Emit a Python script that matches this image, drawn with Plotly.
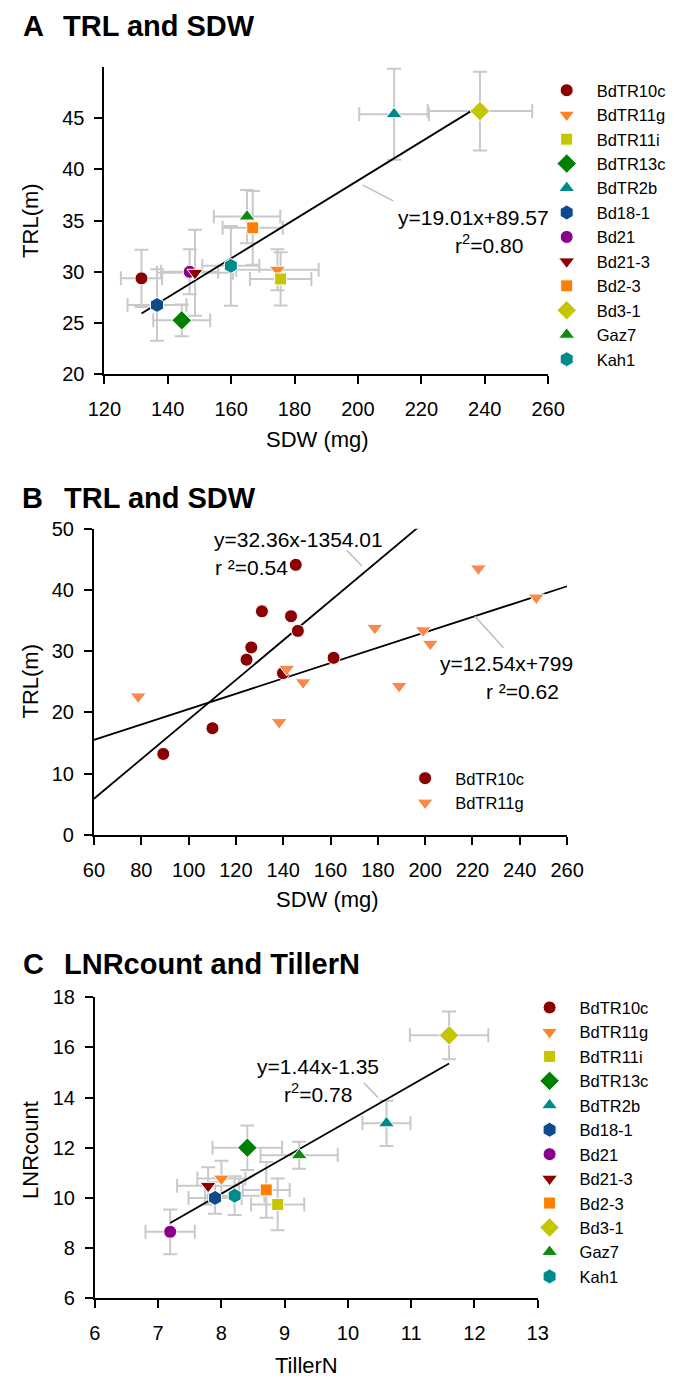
import plotly.graph_objects as go

W, H = 681, 1390
FONT = "Liberation Sans, Arial, sans-serif"


def px(x):
    return x / W


def py(y):
    return 1 - y / H


# ---------------- data ----------------
genotypes = ["BdTR10c", "BdTR11g", "BdTR11i", "BdTR13c", "BdTR2b", "Bd18-1",
             "Bd21", "Bd21-3", "Bd2-3", "Bd3-1", "Gaz7", "Kah1"]
geno_colors = ["#8B0000", "#FF8427", "#C6C600", "#008000", "#008B8B", "#0E4A8C",
               "#8B008B", "#8B0000", "#FF8000", "#C6C600", "#118A11", "#008B8B"]
geno_symbols = ["circle", "triangle-down", "square", "diamond", "triangle-up", "hexagon",
                "circle", "triangle-down", "square", "diamond", "triangle-up", "hexagon"]
geno_sizes = [13, 14, 12, 15, 14, 15, 13, 14, 12, 15, 14, 15]

# Panel A: TRL vs SDW (genotype means)
a_sdw = [131.7, 174.6, 175.6, 144.4, 211.4, 136.6, 146.9, 148.6, 166.8, 238.5, 165.0, 159.9]
a_sdw_err = [6.5, 13.0, 9.7, 9.0, 11.0, 9.3, 9.0, 12.0, 9.5, 16.5, 10.5, 9.0]
a_trl = [29.36, 30.2, 29.3, 25.26, 45.4, 26.76, 30.0, 29.9, 34.3, 45.7, 35.4, 30.58]
a_trl_err = [2.8, 2.0, 2.6, 1.55, 4.45, 3.5, 2.2, 4.2, 3.6, 3.85, 2.6, 3.9]
a_fit = [0.1901, 0.8957]          # slope, intercept (drawn scale)
a_eq_text = "y=19.01x+89.57"
a_r2_text = "r<sup>2</sup>=0.80"

# Panel B: TRL vs SDW (individual plants)
b_names = ["BdTR10c", "BdTR11g"]
b_colors = ["#8B0000", "#F98A4C"]
b_symbols = ["circle", "triangle-down"]
b_sizes = [13, 14]
b_10c_sdw = [145.3, 131.0, 143.3, 146.2, 126.5, 124.5, 161.3, 139.9, 110.1, 89.3]
b_10c_trl = [44.1, 36.5, 35.7, 33.3, 30.6, 28.6, 28.9, 26.4, 17.4, 13.2]
b_11g_sdw = [78.7, 141.5, 148.4, 138.3, 222.5, 247.0, 178.7, 199.2, 202.2, 189.0]
b_11g_trl = [22.6, 27.1, 24.9, 18.4, 43.5, 38.75, 33.8, 33.4, 31.2, 24.3]
b_fits = [[0.3236, -13.5401], [0.1254, 7.99]]
b_eq_texts = ["y=32.36x-1354.01", "y=12.54x+799"]
b_r2_texts = ["r \u00b2=0.54", "r \u00b2=0.62"]

# Panel C: LNRcount vs TillerN (genotype means)
c_tiller = [7.90, 8.0, 8.89, 8.41, 10.61, 7.90, 7.19, 7.79, 8.71, 11.6, 9.23, 8.21]
c_tiller_err = [0.0, 0.38, 0.42, 0.55, 0.38, 0.42, 0.39, 0.49, 0.37, 0.62, 0.61, 0.47]
c_lnr = [10.0, 10.77, 9.74, 12.0, 12.97, 10.0, 8.65, 10.48, 10.32, 16.48, 11.70, 10.09]
c_lnr_err = [0.0, 0.71, 1.03, 0.89, 0.90, 0.63, 0.89, 0.74, 1.11, 0.95, 0.54, 0.77]
c_fit = [1.44, -1.35]
c_eq_text = "y=1.44x-1.35"
c_r2_text = "r<sup>2</sup>=0.78"

# ---------------- figure ----------------
fig = go.Figure()
ERR = "#C9C9C9"


def add_panel_means(xs, xe, ys, ye, fit, xa, ya, legend):
    # error bars beneath everything
    fig.add_trace(go.Scatter(
        x=xs, y=ys, mode="markers", xaxis=xa, yaxis=ya, showlegend=False,
        marker=dict(color="rgba(0,0,0,0)", size=1),
        error_x=dict(type="data", array=xe, color=ERR, thickness=2, width=7),
        error_y=dict(type="data", array=ye, color=ERR, thickness=2, width=7),
        hoverinfo="skip"))
    x0, x1 = min(xs), max(xs)
    fig.add_trace(go.Scatter(
        x=[x0, x1], y=[fit[0] * x0 + fit[1], fit[0] * x1 + fit[1]],
        mode="lines", line=dict(color="black", width=1.8), xaxis=xa, yaxis=ya,
        showlegend=False, hoverinfo="skip"))
    for i, g in enumerate(genotypes):
        fig.add_trace(go.Scatter(
            x=[xs[i]], y=[ys[i]], mode="markers", name=g, xaxis=xa, yaxis=ya,
            legend=legend,
            marker=dict(color=geno_colors[i], symbol=geno_symbols[i], size=geno_sizes[i],
                        line=dict(color="white", width=1))))


add_panel_means(a_sdw, a_sdw_err, a_trl, a_trl_err, a_fit, "x", "y", "legend")

# Panel B
b_xr = [60, 260]
for f in b_fits:
    fig.add_trace(go.Scatter(
        x=b_xr, y=[f[0] * v + f[1] for v in b_xr], mode="lines",
        line=dict(color="black", width=1.8), xaxis="x2", yaxis="y2",
        showlegend=False, hoverinfo="skip"))
for nm, col, sym, sz, xs, ys in zip(b_names, b_colors, b_symbols, b_sizes,
                                    [b_10c_sdw, b_11g_sdw], [b_10c_trl, b_11g_trl]):
    fig.add_trace(go.Scatter(
        x=xs, y=ys, mode="markers", name=nm, xaxis="x2", yaxis="y2", legend="legend2",
        marker=dict(color=col, symbol=sym, size=sz, line=dict(color="white", width=1))))

add_panel_means(c_tiller, c_tiller_err, c_lnr, c_lnr_err, c_fit, "x3", "y3", "legend3")

# ---------------- layout ----------------
axis_common = dict(showline=True, linecolor="black", linewidth=2, ticks="outside",
                   ticklen=8, tickwidth=2, tickcolor="black", showgrid=False,
                   zeroline=False, tickfont=dict(family=FONT, size=20, color="black"),
                   fixedrange=True)


def xdom(a, b):
    return [a / W, b / W]


def ydom(top, bot):
    return [1 - bot / H, 1 - top / H]


fig.update_layout(
    width=W, height=H, margin=dict(l=0, r=0, t=0, b=0),
    paper_bgcolor="white", plot_bgcolor="white",
    font=dict(family=FONT, color="black"),
    xaxis=dict(axis_common, domain=xdom(92, 559), range=[120, 260],
               tickvals=list(range(120, 261, 20)), anchor="y", ticklabelstandoff=8),
    yaxis=dict(axis_common, domain=ydom(57, 369), range=[20, 50],
               tickvals=list(range(20, 46, 5)), anchor="x", ticklabelstandoff=6),
    xaxis2=dict(axis_common, domain=xdom(81, 579), range=[60, 260],
                tickvals=list(range(60, 261, 20)), anchor="y2", ticklabelstandoff=8),
    yaxis2=dict(axis_common, domain=ydom(526, 837), range=[0, 50],
                tickvals=list(range(0, 51, 10)), anchor="x2", ticklabelstandoff=6),
    xaxis3=dict(axis_common, domain=xdom(82, 548), range=[6, 13],
                tickvals=list(range(6, 14)), anchor="y3", ticklabelstandoff=8),
    yaxis3=dict(axis_common, domain=ydom(1002, 1308), range=[6, 18],
                tickvals=list(range(6, 19, 2)), anchor="x3", ticklabelstandoff=6),
    showlegend=True,
)

leg_common = dict(xanchor="left", yanchor="top", bgcolor="rgba(0,0,0,0)", borderwidth=0,
                  font=dict(family=FONT, size=16.5, color="black"), tracegroupgap=0,
                  traceorder="normal", itemwidth=50)
fig.update_layout(
    legend=dict(leg_common, x=px(547), y=py(63)),
    legend2=dict(leg_common, x=px(398), y=py(762)),
    legend3=dict(leg_common, x=px(529), y=py(995)),
)


def ann(text, x, y, size, xanchor="center", angle=0):
    return dict(text=text, x=px(x), y=py(y), xref="paper", yref="paper", showarrow=False,
                font=dict(family=FONT, size=size, color="black"), xanchor=xanchor,
                yanchor="middle", textangle=angle)


annotations = [
    ann("<b>A</b>", 4, 15, 29, "left"),
    ann("<b>TRL and SDW</b>", 46, 15, 29, "left"),
    ann("<b>B</b>", 3, 495, 29, "left"),
    ann("<b>TRL and SDW</b>", 47, 495, 29, "left"),
    ann("<b>C</b>", 4, 968, 29, "left"),
    ann("<b>LNRcount and TillerN</b>", 47, 968, 29, "left"),
    # axis titles
    ann("SDW (mg)", 316, 435, 22),
    ann("TRL(m)", 14, 213, 22, angle=-90),
    ann("SDW (mg)", 327, 903, 22),
    ann("TRL(m)", 14, 681, 22, angle=-90),
    ann("TillerN", 305, 1376, 22),
    ann("LNRcount", 14, 1157, 22, angle=-90),
    # equations
    ann(a_eq_text, 480, 210, 21),
    ann(a_r2_text, 497, 237, 21),
    ann(b_eq_texts[0], 205, 537, 21, "left"),
    ann(b_r2_texts[0], 206, 565, 21, "left"),
    ann(b_eq_texts[1], 443, 663, 21, "left"),
    ann(b_r2_texts[1], 492, 691, 21, "left"),
    ann(c_eq_text, 317, 1072, 21),
    ann(c_r2_text, 317, 1099, 21),
]
fig.update_layout(annotations=annotations)

LEAD = "#BDBDBD"
leaders = [(364, 177, 396, 193), (347, 548, 363, 564), (482, 615, 512, 647), (365, 1089, 380, 1104)]
fig.update_layout(shapes=[dict(type="line", xref="paper", yref="paper",
                               x0=px(a), y0=py(b), x1=px(c), y1=py(d),
                               line=dict(color=LEAD, width=1.5)) for a, b, c, d in leaders])

fig.write_html("out.html", config={"displayModeBar": False},
               post_script="document.body.style.margin='0px';document.body.style.padding='0px';")
